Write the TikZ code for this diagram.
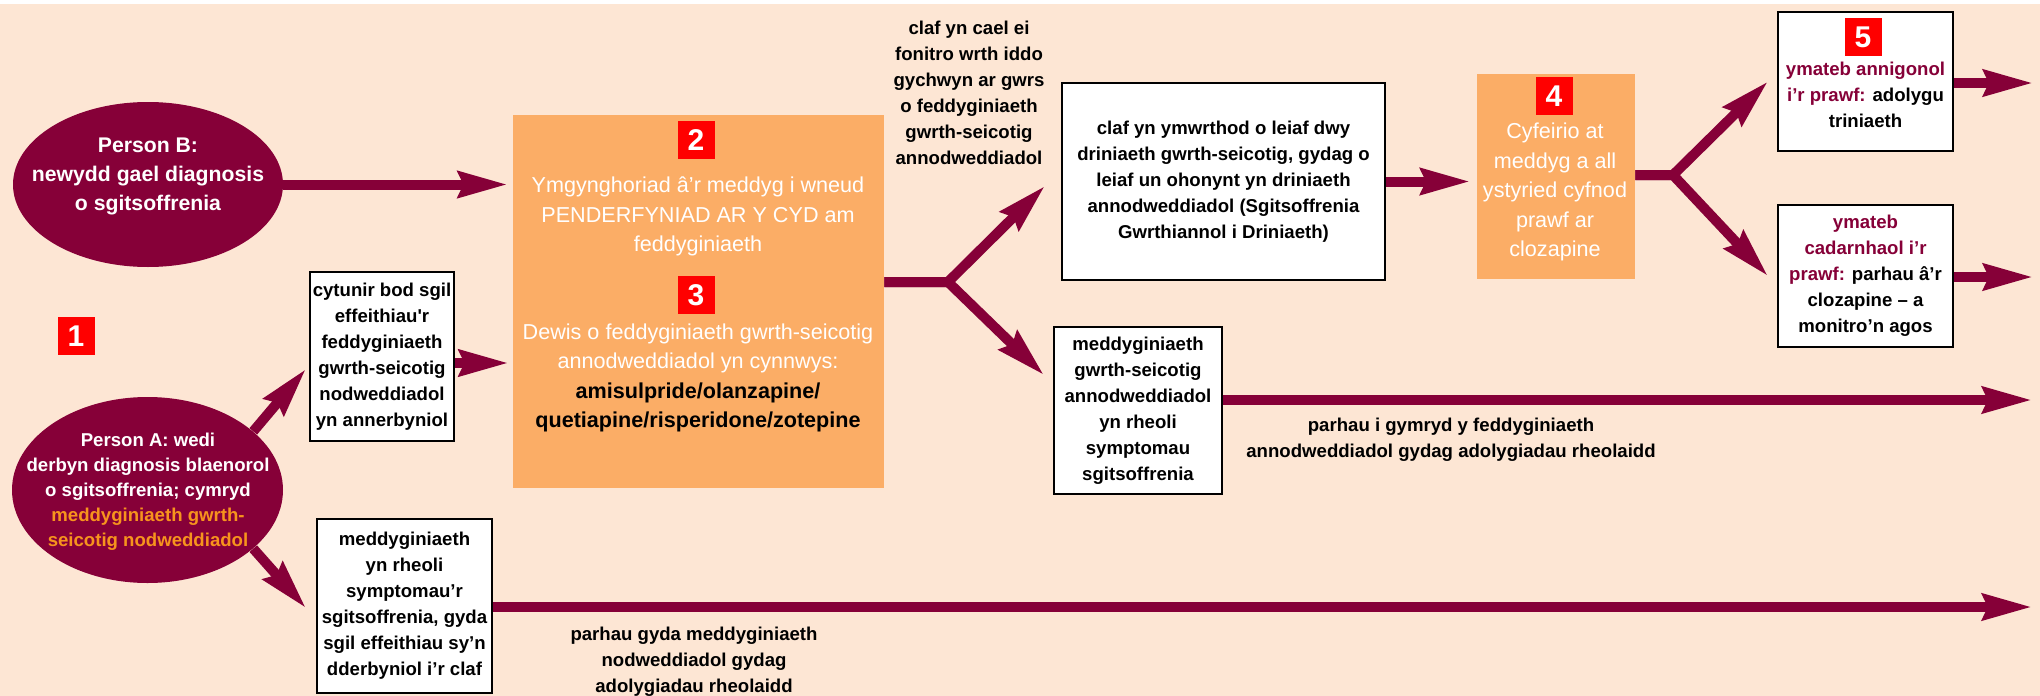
\documentclass[tikz,border=0pt]{standalone}
\usepackage{fontspec}
\setmainfont{Liberation Sans}
\usepackage{xcolor}
\usepackage{tikz}
\usetikzlibrary{shapes,arrows.meta,positioning,calc}

\definecolor{wine}{RGB}{134,0,56}
\definecolor{peach}{RGB}{253,230,212}
\definecolor{paleorange}{RGB}{251,173,102}
\definecolor{numred}{RGB}{255,0,0}
\definecolor{pillorange}{RGB}{247,148,29}

\begin{document}
\begin{tikzpicture}[
    x=0.5pt, y=-0.5pt,
    pill/.style={ellipse, fill=wine, inner sep=0pt},
    pilltext/.style={align=center, text=white},
    card/.style={rectangle, draw, line width=1.1pt, fill=white, inner sep=0pt, align=center, font=\fontsize{9.3}{13}\selectfont\bfseries},
    panel/.style={rectangle, fill=paleorange, inner sep=0pt},
    paneltext/.style={align=center, text=white, font=\fontsize{10.8}{14.75}\selectfont},
    num/.style={rectangle, fill=numred, text=white, inner sep=0pt, minimum width=18.5pt, minimum height=19pt, font=\fontsize{15}{15}\selectfont\bfseries},
    note/.style={align=center, font=\fontsize{9.3}{13}\selectfont\bfseries},
    arrow/.style={draw=wine, line width=5pt, -{Stealth[length=24.5pt, width=12.8pt, inset=2.5pt]}}
]
    % ============ Background ============
    \fill[peach] (0,0) rectangle (2040,696);
    \fill[white] (0,0) rectangle (2040,4);
    \useasboundingbox (0,0) rectangle (2040,696);

    % ============ Patients ============
    \node[pill, minimum width=135pt, minimum height=82.5pt] (pb) at (148,184.5) {};
    \node[pilltext, font=\fontsize{10.6}{14.5}\selectfont\bfseries] (pbtext) at (148,176) {Person B:\\newydd gael diagnosis\\o sgitsoffrenia};

    \node[pill, minimum width=135.5pt, minimum height=93pt] (pa) at (147.5,490) {};
    \node[pilltext, font=\fontsize{9.3}{12.5}\selectfont\bfseries] (patext) at (148,491.5) {Person A: wedi\\derbyn diagnosis blaenorol\\o sgitsoffrenia; cymryd\\\textcolor{pillorange}{meddyginiaeth gwrth-}\\\textcolor{pillorange}{seicotig nodweddiadol}};

    \node[num] (n1) at (76,336) {1};

    % ============ Typical antipsychotic outcomes ============
    \node[card, minimum width=72pt, minimum height=84.5pt] (cyt) at (382,356.5) {cytunir bod sgil\\effeithiau\textquotesingle r\\feddyginiaeth\\gwrth-seicotig\\nodweddiadol\\yn annerbyniol};
    \node[card, minimum width=87.5pt, minimum height=87pt] (low) at (404.5,606) {meddyginiaeth\\yn rheoli\\symptomau’r\\sgitsoffrenia, gyda\\sgil effeithiau sy’n\\dderbyniol i’r claf};

    % ============ Shared decision (2, 3) ============
    \node[panel, minimum width=185.5pt, minimum height=186.5pt] (big) at (698.5,301.5) {};
    \node[num] (n2) at (696,140) {2};
    \node[paneltext] (bigtop) at (698,216.5) {Ymgynghoriad â’r meddyg i wneud\\PENDERFYNIAD AR Y CYD am\\feddyginiaeth};
    \node[num] (n3) at (696,295) {3};
    \node[paneltext, text=black] (bigbot) at (698,378) {\textcolor{white}{Dewis o feddyginiaeth gwrth-seicotig}\\\textcolor{white}{annodweddiadol yn cynnwys:}\\\textbf{amisulpride/olanzapine/}\\\textbf{quetiapine/risperidone/zotepine}};

    \node[note] (monitor) at (969,92.5) {claf yn cael ei\\fonitro wrth iddo\\gychwyn ar gwrs\\o feddyginiaeth\\gwrth-seicotig\\annodweddiadol};

    % ============ Atypical antipsychotic outcomes ============
    \node[card, minimum width=161.5pt, minimum height=98.5pt] (ymw) at (1223.5,181.5) {claf yn ymwrthod o leiaf dwy\\driniaeth gwrth-seicotig, gydag o\\leiaf un ohonynt yn driniaeth\\annodweddiadol (Sgitsoffrenia\\Gwrthiannol i Driniaeth)};
    \node[card, minimum width=84pt, minimum height=83.5pt] (rheo) at (1138,410.5) {meddyginiaeth\\gwrth-seicotig\\annodweddiadol\\yn rheoli\\symptomau\\sgitsoffrenia};

    % ============ Clozapine (4, 5) ============
    \node[panel, minimum width=79pt, minimum height=102.5pt] (box4) at (1556,176.5) {};
    \node[num] (n4) at (1554,96) {4};
    \node[paneltext] (box4text) at (1555,192) {Cyfeirio at\\meddyg a all\\ystyried cyfnod\\prawf ar\\clozapine};

    \node[card, minimum width=87.5pt, minimum height=69.5pt] (b5) at (1865.5,81.5) {};
    \node[num] (n5) at (1863,37) {5};
    \node[note] (b5text) at (1865.5,95) {\textcolor{wine}{ymateb annigonol}\\\textcolor{wine}{i’r prawf:} adolygu\\triniaeth};
    \node[card, minimum width=87.5pt, minimum height=71pt] (cad) at (1865.5,276) {\textcolor{wine}{ymateb}\\\textcolor{wine}{cadarnhaol i’r}\\\textcolor{wine}{prawf:} parhau â’r\\clozapine -- a\\monitro’n agos};

    % ============ Labels on long arrows ============
    \node[note] (keepatyp) at (1451,439.5) {parhau i gymryd y feddyginiaeth\\annodweddiadol gydag adolygiadau rheolaidd};
    \node[note] (keeptyp) at (694,662) {parhau gyda meddyginiaeth\\nodweddiadol gydag\\adolygiadau rheolaidd};

    % ============ Connections ============
    \coordinate (j1) at (948,282);
    \coordinate (j2) at (1673,175);
    \coordinate (cytout) at ([yshift=-3.25pt]cyt.east);
    \coordinate (o1) at (2033,83);
    \coordinate (o2) at (2033,277);
    \coordinate (o3) at (2032,400);
    \coordinate (o4) at (2032,607);

    % patients
    \draw[arrow, shorten >=2.5pt] (pb.east) -- (big.west |- pb.east);
    \draw[arrow] (pa.29) -- ([xshift=-1.5pt,yshift=-6.25pt]cyt.west);
    \draw[arrow] (pa.-29) -- ([xshift=-5pt,yshift=-1pt]low.west);
    \draw[arrow, shorten >=2pt] (cytout) -- (big.west |- cytout);

    % forks
    \draw[arrow] (big.east |- j1) -- (j1) -- ([xshift=-8pt,yshift=-2.25pt]ymw.west);
    \draw[arrow] (big.east |- j1) -- (j1) -- ([xshift=-4.5pt,yshift=17.75pt]rheo.west);
    \draw[arrow, shorten >=3.25pt] (ymw.east) -- (box4.west |- ymw.east);
    \draw[arrow] (box4.east |- j2) -- (j2) -- ([xshift=-4.5pt]b5.west);
    \draw[arrow] (box4.east |- j2) -- (j2) -- ([xshift=-4.5pt]cad.west);

    % outputs
    \draw[arrow] (b5.east |- o1) -- (o1);
    \draw[arrow] (cad.east |- o2) -- (o2);
    \draw[arrow] (rheo.east |- o3) -- (o3);
    \draw[arrow] (low.east |- o4) -- (o4);

\end{tikzpicture}
\end{document}
